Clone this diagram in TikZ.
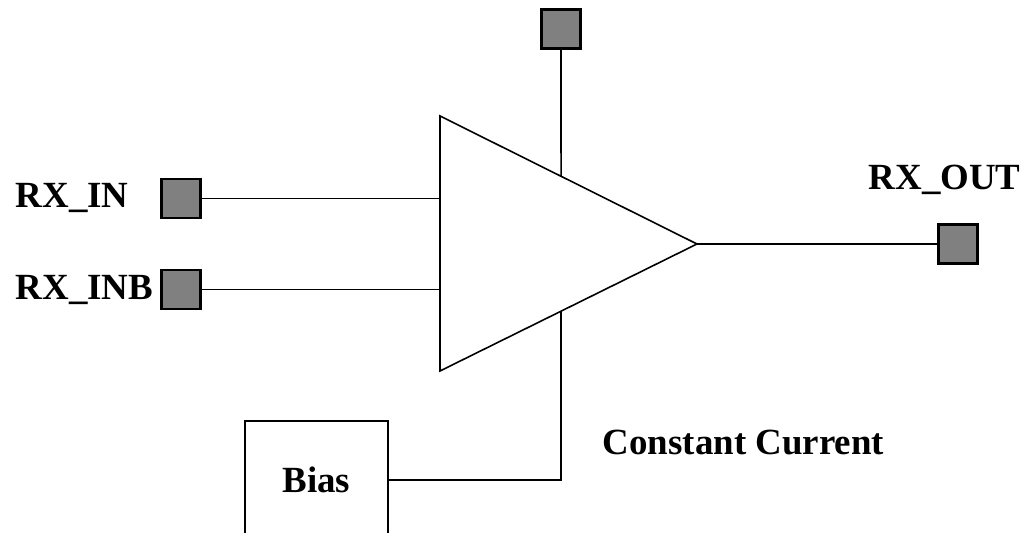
\documentclass[tikz,border=0pt]{standalone}
\usepackage{fontspec}
\setmainfont{Liberation Serif}
\usetikzlibrary{calc}

\begin{document}
\begin{tikzpicture}[line width=0.9pt]
        \tikzstyle{pad}=[rectangle, fill=black!50, draw=black,
            line width=1.3pt, minimum size=0.78cm, inner sep=0pt]
        \tikzstyle{lbl}=[anchor=base west, inner sep=0pt,
            font=\fontsize{21}{25}\selectfont\bfseries]

            \useasboundingbox (0,0) rectangle (20.48,10.66);

            % amplifier
            \coordinate (tl) at (8.8,8.34);
            \coordinate (bl) at (8.8,3.24);
            \coordinate (apex) at (13.94,5.78);
            \draw (tl) -- (apex) -- (bl) -- cycle;
            \coordinate (vddpin) at ($(tl)!0.471!(apex)$);
            \coordinate (biaspin) at ($(bl)!0.471!(apex)$);

            % input pads
            \foreach \n/\y in {in/6.69, inb/4.87}
            {
                \node[pad] (p\n) at (3.62,\y) {};
                \draw (p\n) -- (p\n -| tl);
            }
            \node[lbl] (lin) at (0.3,6.5) {RX\_IN};
            \node[lbl] (linb) at (0.3,4.66) {RX\_INB};

            % supply pad
            \node[pad] (vdd) at (11.22,10.08) {};
            \draw (vdd) -- (vddpin);

            % output pad
            \node[pad] (pout) at (19.16,5.78) {};
            \draw (apex) -- (pout);
            \node[lbl] (lout) at (17.36,6.86) {RX\_OUT};

            % bias
            \node[draw, minimum width=2.86cm, minimum height=2.36cm,
            font=\fontsize{21}{25}\selectfont\bfseries] (bias)
            at (6.33,1.06) {Bias};
            \draw (bias.east) -| (biaspin);
            \node[lbl] (lcc) at (12.04,1.56) {Constant Current};
    \end{tikzpicture}
\end{document}
